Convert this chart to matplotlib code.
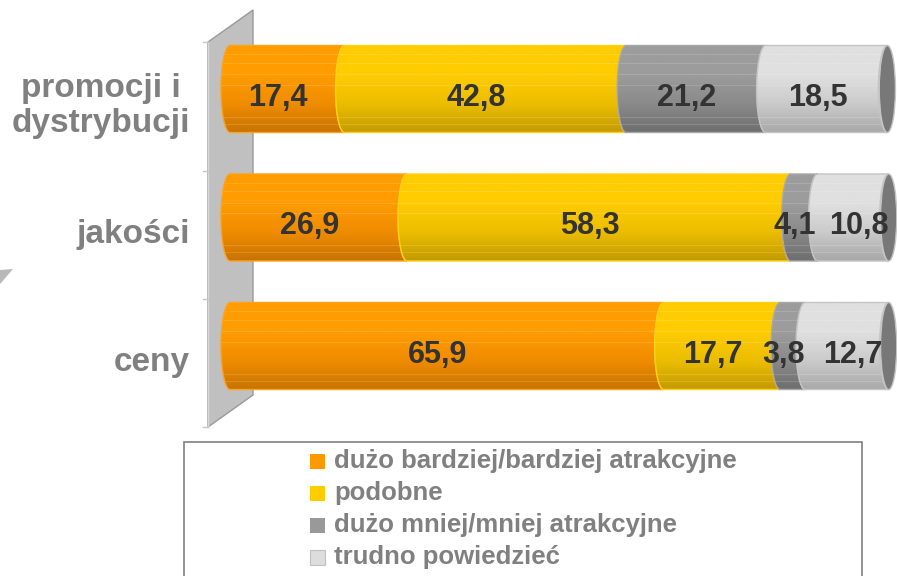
import numpy as np
import matplotlib
matplotlib.use("Agg")
import matplotlib.pyplot as plt
from matplotlib.path import Path
from matplotlib.patches import PathPatch, Polygon, Ellipse, Rectangle
from matplotlib.colors import LinearSegmentedColormap

plt.rcParams['font.family'] = ['Liberation Sans', 'DejaVu Sans']

categories = ['ceny', 'jakości', 'promocji i\ndystrybucji']
series = ['dużo bardziej/bardziej atrakcyjne', 'podobne',
          'dużo mniej/mniej atrakcyjne', 'trudno powiedzieć']
values = [
    [65.9, 26.9, 17.4],   # dużo bardziej/bardziej atrakcyjne
    [17.7, 58.3, 42.8],   # podobne
    [3.8, 4.1, 21.2],     # dużo mniej/mniej atrakcyjne
    [12.7, 10.8, 18.5],   # trudno powiedzieć
]
labels = [
    ['65,9', '26,9', '17,4'],
    ['17,7', '58,3', '42,8'],
    ['3,8', '4,1', '21,2'],
    ['12,7', '10,8', '18,5'],
]

# top / middle / bottom shades for the cylinder look, legend swatch, outline
shades = [('#ff9c00', '#f08c00', '#c87300'), ('#ffcc00', '#ecbe00', '#c49a00'),
          ('#9c9c9c', '#8a8a8a', '#6e6e6e'), ('#e0e0e0', '#cbcbcb', '#a8a8a8')]
swatch = ['#ff9900', '#ffcc00', '#999999', '#dddddd']
edges = ['#ffa31a', '#ffd21a', '#a8a8a8', '#c4c4c4']

W, H = 897, 576
fig = plt.figure(figsize=(W / 100, H / 100), dpi=100)
ax = fig.add_axes([0, 0, 1, 1])

# pixel -> data mapping
X0, SX = 230.0, 6.58
Y0, SY = 346.0, 128.5
def px(x):
    return (x - X0) / SX
def py(y):
    return (Y0 - y) / SY

ax.set_xlim(px(0), px(W))
ax.set_ylim(py(H), py(0))
ax.axis('off')

h = 43.5 / SY
rx = 9 / SX

# back wall
wall = Polygon([(px(208), py(42)), (px(253), py(10)), (px(253), py(395)), (px(208), py(427))],
               closed=True, facecolor='#c0c0c0', edgecolor='#9a9a9a', lw=1, zorder=1)
ax.add_patch(wall)
ax.plot([px(208), px(208)], [py(42), py(427)], color='#d8d8d8', lw=1, zorder=1)
for ty in [42, 171, 299, 427]:
    ax.plot([px(203), px(208)], [py(ty), py(ty)], color='#c8c8c8', lw=1, zorder=1)
# floor fragment at the far left
ax.add_patch(Polygon([(px(0), py(270)), (px(13), py(269)), (px(0), py(284))],
                     closed=True, facecolor='#b8b8b8', edgecolor='none', zorder=1))

t = np.linspace(np.pi / 2, -np.pi / 2, 40)

def segment(a, b, c):
    right = np.column_stack([b - rx * np.cos(t), c + h * np.sin(t)])
    left = np.column_stack([a - rx * np.cos(t[::-1]), c + h * np.sin(t[::-1])])
    verts = np.vstack([[a, c + h], [b, c + h], right, [a, c - h], left])
    return Path(verts, closed=False)

grad = np.linspace(0, 1, 120).reshape(-1, 1)
stripes = [0.1, 0.2, 0.33, 0.45, 0.82, 0.9]
for i, cat in enumerate(categories):
    start = 0.0
    for s in range(len(series)):
        v = values[s][i]
        a, b = start, start + v
        top, mid, bot = shades[s]
        cmap = LinearSegmentedColormap.from_list('c%d' % s, [top, top, mid, bot])
        patch = PathPatch(segment(a, b, i), facecolor='none', edgecolor=edges[s], lw=1, zorder=3 + s)
        im = ax.imshow(grad, cmap=cmap, extent=(a - rx - 0.5, b + 0.5, i - h, i + h),
                       aspect='auto', origin='upper', zorder=2 + s, interpolation='bilinear')
        ax.add_patch(patch)
        im.set_clip_path(patch)
        for f in stripes:
            yy = i + h - 2 * h * f
            ln, = ax.plot([a - rx, b], [yy, yy], color='white', alpha=0.15, lw=0.8, zorder=2 + s)
            ln.set_clip_path(patch)
        # label sits in the middle of the visible face
        if s == len(series) - 1 and v < 15:
            lx = (a + b) / 2 + 6 / SX
        else:
            lx = (a + b) / 2 - rx
        ax.text(lx, i - 0.132, labels[s][i], ha='center', va='baseline',
                fontsize=22, fontweight='bold', color='#333333', zorder=10)
        start = b
    # end cap of the cylinder
    ax.add_patch(Ellipse((start, i), 2 * rx * 0.9, 2 * h, facecolor='#787878',
                         edgecolor='#c4c4c4', lw=1, zorder=8))

# category labels, aligned to the back wall
for i, cat in enumerate(categories):
    ax.text(px(190), i + py(363) - py(346), cat, ha='right', va='center', multialignment='center',
            fontsize=24, fontweight='bold', color='#808080', linespacing=1.2)

# legend box
ax.add_patch(Rectangle((px(184), py(600)), px(862) - px(184), py(442) - py(600),
                       facecolor='white', edgecolor='#808080', lw=1.2, zorder=1))
for k, name in enumerate(series):
    cy = 461 + 32 * k
    ax.add_patch(Rectangle((px(310), py(cy + 7.5)), 15 / SX, 15 / SY,
                           facecolor=swatch[k], edgecolor='#c0c0c0' if k == 3 else 'none',
                           lw=0.8, zorder=2))
    ax.text(px(334), py(cy), name, ha='left', va='center', fontsize=18.5,
            fontweight='bold', color='#808080', zorder=2)

fig.savefig('out.png', dpi=100)
